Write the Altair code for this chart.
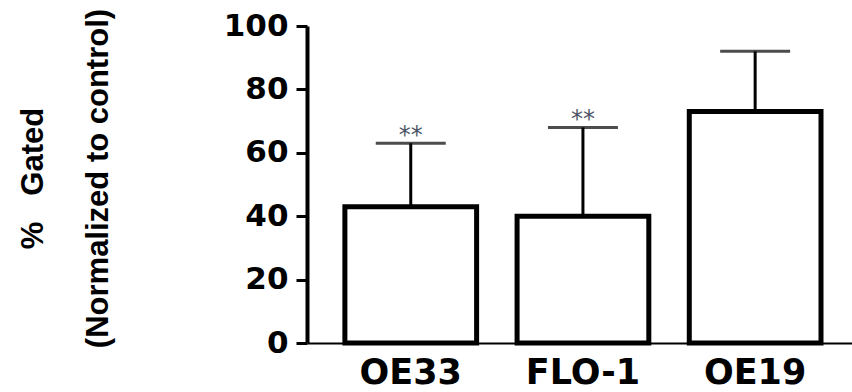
import altair as alt
import pandas as pd

cells = ["OE33", "FLO-1", "OE19"]
means = [43, 40, 73]
upper = [63, 68, 92]
sig = ["**", "**", ""]

df = pd.DataFrame({"cell": cells, "mean": means, "upper": upper, "sig": sig})

y_scale = alt.Scale(domain=[0, 100], nice=False, zero=True)
x_enc = alt.X(
    "cell:N",
    sort=cells,
    scale=alt.Scale(paddingInner=0.235, paddingOuter=0.2, align=0.55),
    axis=alt.Axis(
        title=None,
        ticks=False,
        labelAngle=0,
        labelFont="DejaVu Sans",
        labelFontWeight="bold",
        labelFontSize=35,
        labelColor="black",
        labelPadding=12,
        domainColor="black",
        domainWidth=2,
    ),
)

y_axis = alt.Axis(
    values=list(range(0, 101, 10)),
    labelExpr="datum.value % 20 == 0 ? datum.label : ''",
    tickSize={"condition": {"test": "datum.value % 20 == 0", "value": 11}, "value": 6},
    tickWidth=3,
    tickColor="black",
    domainColor="black",
    domainWidth=4,
    labelFont="DejaVu Sans",
    labelFontWeight="bold",
    labelFontSize=31,
    labelColor="black",
    labelPadding=8,
    grid=False,
    title=["%\u00a0\u00a0\u00a0Gated", "(Normalized to control)"],
    titleFont="Liberation Sans",
    titleFontWeight="bold",
    titleFontSize=31,
    titleColor="black",
    titleLineHeight=65,
    titleAngle=270,
    titleAlign="center",
    titleBaseline="middle",
    titleX=-274,
    titleY=152,
)

base = alt.Chart(df).encode(x=x_enc)

bars = base.mark_bar(fill="white", stroke="black", strokeWidth=5).encode(
    y=alt.Y("mean:Q", scale=y_scale, axis=y_axis)
)
err = base.mark_rule(color="black", strokeWidth=3).encode(
    y=alt.Y("mean:Q", scale=y_scale), y2="upper:Q"
)
cap = base.mark_tick(color="black", size=70, thickness=3, orient="horizontal").encode(
    y=alt.Y("upper:Q", scale=y_scale)
)
stars = base.mark_text(
    dy=-7, fontSize=24, font="DejaVu Sans", color="#4d5566", baseline="middle"
).encode(y=alt.Y("upper:Q", scale=y_scale), text="sig:N")

chart = (
    alt.layer(bars, err, cap, stars)
    .properties(
        width=545,
        height=317,
        autosize=alt.AutoSizeParams(type="none"),
        padding={"left": 307, "top": 26, "right": 0, "bottom": 49},
        background="white",
    )
    .configure_view(stroke=None)
)

chart.save("out.html", embed_options={"renderer": "svg", "actions": False})
